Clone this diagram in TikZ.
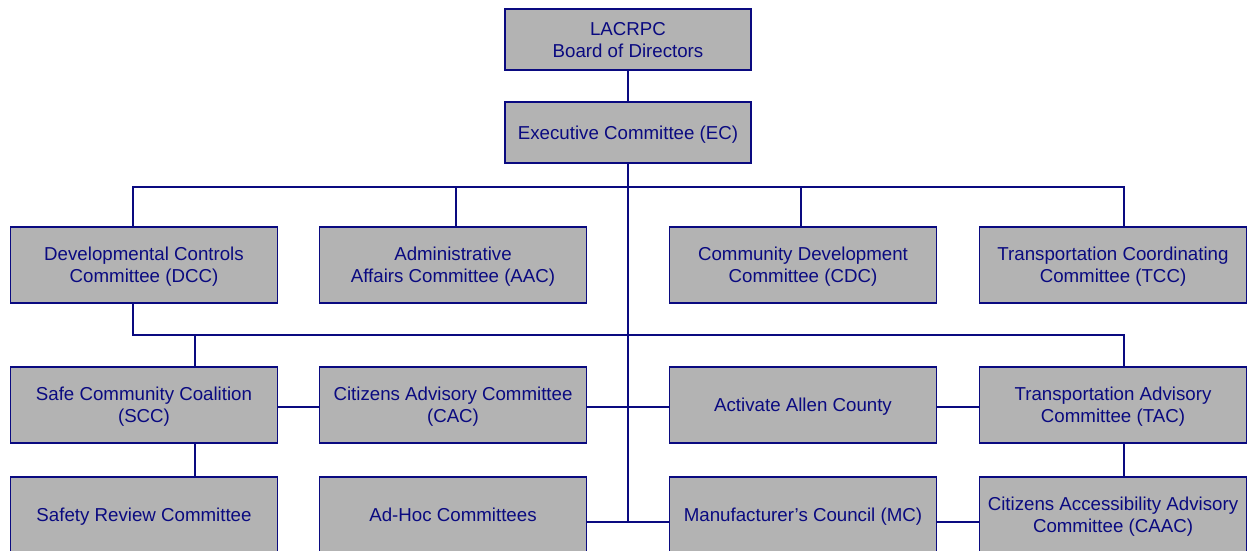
\documentclass[tikz,border=0pt]{standalone}
\usepackage{fontspec}
\setmainfont{Liberation Sans}
\usetikzlibrary{positioning}
\definecolor{navy}{RGB}{10,10,128}
\definecolor{boxgray}{RGB}{179,179,179}

\begin{document}
\begin{tikzpicture}[x=1pt,y=-1pt,
  link/.style={draw=navy,line width=1.8pt},
  org node/.style={rectangle,fill=boxgray,draw=navy,line width=1.6pt,text=navy,align=center,
    inner sep=0pt,outer sep=0pt,text depth=-2pt,minimum width=267pt,minimum height=76pt,
    font=\fontsize{18.7}{22}\selectfont},
  top node/.style={org node,minimum width=246pt,minimum height=61pt}]
  \useasboundingbox (0,0) rectangle (1247,550);

  \node[top node] (board) at (628,39.5) {LACRPC\\Board of Directors};
  \node[top node] (ec) [below=32pt of board] {Executive Committee (EC)};

  \node[org node] (dcc) at (144,265) {Developmental Controls\\Committee (DCC)};
  \node[org node] (aac) [right=42pt of dcc] {Administrative\\Affairs Committee (AAC)};
  \node[org node] (cdc) [right=83pt of aac] {Community Development\\Committee (CDC)};
  \node[org node] (tcc) [right=43pt of cdc] {Transportation Coordinating\\Committee (TCC)};

  \node[org node] (scc) [below=64pt of dcc] {Safe Community Coalition\\(SCC)};
  \node[org node] (cac) [below=64pt of aac] {Citizens Advisory Committee\\(CAC)};
  \node[org node] (act) [below=64pt of cdc] {Activate Allen County};
  \node[org node] (tac) [below=64pt of tcc] {Transportation Advisory\\Committee (TAC)};

  \node[org node] (src) [below=34pt of scc] {Safety Review Committee};
  \node[org node] (adhoc) [below=34pt of cac] {Ad-Hoc Committees};
  \node[org node] (mc) [below=34pt of act] {Manufacturer's Council (MC)};
  \node[org node] (caac) [below=34pt of tac] {Citizens Accessibility Advisory\\Committee (CAAC)};

  \coordinate (busA) at (627,187);
  \coordinate (busB) at (627,335);
  \coordinate (foot) at (627,522);

  % spine and upper bus
  \draw[link] (board) -- (ec);
  \draw[link] (ec.south) -- (ec.south |- foot);
  \draw[link] ([xshift=-11pt]dcc.north) |- (busA) -| ([xshift=11pt]tcc.north);
  \draw[link] ([xshift=3pt]aac.north) -- ([xshift=3pt]aac.north |- busA);
  \draw[link] ([xshift=-2pt]cdc.north) -- ([xshift=-2pt]cdc.north |- busA);

  % lower bus
  \draw[link] ([xshift=-11pt]dcc.south) |- (busB) -| ([xshift=11pt]tac.north);
  \draw[link] ([xshift=51pt]scc.north) -- ([xshift=51pt]scc.north |- busB);
  \draw[link] ([xshift=51pt]scc.south) -- ([xshift=51pt]src.north);
  \draw[link] ([xshift=11pt]tac.south) -- ([xshift=11pt]caac.north);

  % cross links
  \draw[link] ([yshift=-2pt]scc.east) -- ([yshift=-2pt]cac.west);
  \draw[link] ([yshift=-2pt]cac.east) -- ([yshift=-2pt]act.west);
  \draw[link] ([yshift=-2pt]act.east) -- ([yshift=-2pt]tac.west);
  \draw[link] ([yshift=-7pt]adhoc.east) -- ([yshift=-7pt]mc.west);
  \draw[link] ([yshift=-7pt]mc.east) -- ([yshift=-7pt]caac.west);
\end{tikzpicture}
\end{document}
